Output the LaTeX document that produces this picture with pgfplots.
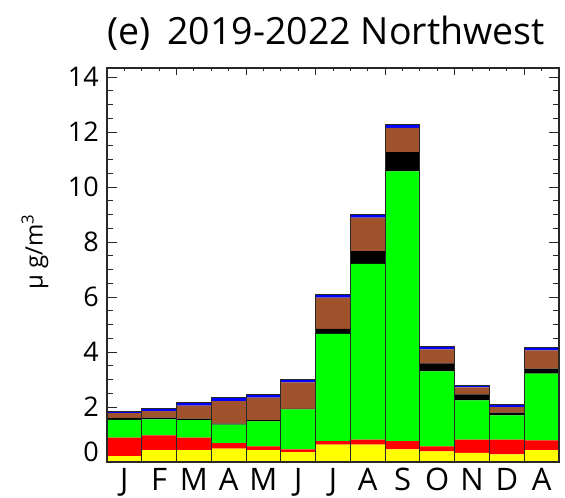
\documentclass[border=0pt]{standalone}
\usepackage{fontspec}
\setmainfont{Open Sans}
\usepackage{pgfplots}
\usepackage{pgfplotstable}
\pgfplotsset{compat=1.18}

\definecolor{cyel}{RGB}{255,255,0}
\definecolor{cred}{RGB}{255,0,0}
\definecolor{cgrn}{RGB}{0,255,0}
\definecolor{cblk}{RGB}{0,0,0}
\definecolor{cbrn}{RGB}{160,82,45}
\definecolor{cblu}{RGB}{0,0,255}
\definecolor{frame}{RGB}{40,40,40}

% monthly mean components, ug/m3 (bottom to top of each stack)
\pgfplotstableread{
x   yel  red  grn  blk  brn  blu
0   0.21 0.68 0.64 0.07 0.18 0.06
1   0.43 0.54 0.58 0.06 0.24 0.11
2   0.43 0.46 0.63 0.06 0.47 0.12
3   0.49 0.20 0.67 0.04 0.81 0.12
4   0.43 0.14 0.91 0.04 0.82 0.11
5   0.36 0.10 1.45 0.02 0.97 0.09
6   0.63 0.13 3.90 0.18 1.14 0.10
7   0.63 0.18 6.40 0.46 1.22 0.11
8   0.46 0.30 9.81 0.70 0.88 0.13
9   0.39 0.18 2.73 0.29 0.51 0.11
10  0.33 0.48 1.43 0.22 0.25 0.08
11  0.28 0.53 0.89 0.10 0.20 0.10
12  0.43 0.36 2.42 0.19 0.66 0.09
}\nwdata

\begin{document}
\begin{tikzpicture}
\pgfplotsset{
  panel/.style={
    scale only axis, width=452bp, height=394bp,
    xmin=-0.5, xmax=12.5, ymin=0, ymax=14.33,
    axis line style={line width=1.3bp, draw=frame},
    every tick/.style={draw=frame, line width=1bp},
    tick align=inside,
  },
}
\begin{axis}[
  panel,
  ybar stacked, bar width=1,
  xtick={0,...,12},
  xticklabels={J,F,M,A,M,J,J,A,S,O,N,D,A},
  major x tick style={draw=none},
  xtick pos=left,
  ytick={2,4,...,14},
  extra y ticks={0},
  extra y tick style={yticklabel style={yshift=10bp}},
  minor y tick num=3,
  ytick pos=both,
  major tick length=10bp, minor tick length=6bp,
  /pgf/number format/assume math mode=true,
  ticklabel style={font=\fontsize{27bp}{30bp}\selectfont},
  xticklabel style={anchor=north, inner sep=0pt, yshift=-6bp,
                    font=\fontsize{31bp}{34bp}\selectfont},
  yticklabel style={anchor=east, inner sep=0pt, xshift=-8bp},
  title={(e)\hspace{0.45em}2019-2022 Northwest},
  title style={at={(rel axis cs:0.5,1)}, anchor=base, inner sep=0pt,
               yshift=18bp, xshift=-7bp,
               font=\fontsize{37.5bp}{40bp}\selectfont},
  ylabel={μ g/m\textsuperscript{3}},
  every axis y label/.style={at={([xshift=-72bp]rel axis cs:0,0.533)},
               rotate=90, anchor=center, inner sep=0pt,
               font=\fontsize{24bp}{26bp}\selectfont},
]
\addplot[fill=cyel, draw=none] table[x=x, y=yel] {\nwdata};
\addplot[fill=cred, draw=none] table[x=x, y=red] {\nwdata};
\addplot[fill=cgrn, draw=none] table[x=x, y=grn] {\nwdata};
\addplot[fill=cblk, draw=none] table[x=x, y=blk] {\nwdata};
\addplot[fill=cbrn, draw=none] table[x=x, y=brn] {\nwdata};
\addplot[fill=cblu, draw=none] table[x=x, y=blu] {\nwdata};
\end{axis}
\begin{axis}[
  panel,
  xtick={1.5,3.5,...,11.5},
  minor xtick={0,0.5,...,12},
  xticklabels={},
  xtick pos=right,
  ytick=\empty,
  major tick length=7bp, minor tick length=3.5bp,
]
% outline of each monthly stack
\addplot[ybar, bar width=1, bar shift=0pt, fill=none, draw=frame, line width=1bp]
  table[x=x, y expr=\thisrow{yel}+\thisrow{red}+\thisrow{grn}+\thisrow{blk}+\thisrow{brn}+\thisrow{blu}] {\nwdata};
\coordinate (o) at (rel axis cs:0,0);
\end{axis}
\pgfresetboundingbox
\path ([xshift=-107bp,yshift=-36bp]o) rectangle ([xshift=458bp,yshift=462bp]o);
\end{tikzpicture}
\end{document}
